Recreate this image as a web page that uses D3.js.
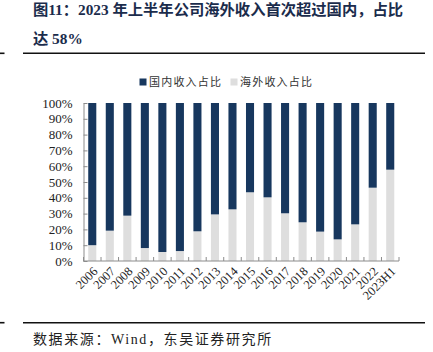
<!DOCTYPE html>
<html>
<head>
<meta charset="utf-8">
<script src="https://cdn.jsdelivr.net/npm/d3@7/dist/d3.min.js"></script>
<style>
html,body{margin:0;padding:0;background:#fff;}
svg{display:block;}
</style>
</head>
<body>
<svg id="chart" width="433" height="352"></svg>
<script>
const categories = ["2006","2007","2008","2009","2010","2011","2012","2013","2014","2015","2016","2017","2018","2019","2020","2021","2022","2023H1"];
const overseasShare = [10.0,19.2,28.7,8.2,5.7,6.3,18.8,29.5,32.7,43.5,40.3,30.2,24.5,18.6,13.7,23.2,46.4,57.8];
const domesticShare = overseasShare.map(v => 100 - v);
const seriesNames = ["国内收入占比","海外收入占比"];
const yTicks = [0,10,20,30,40,50,60,70,80,90,100];
const titleLines = ["图11：2023 年上半年公司海外收入首次超过国内，占比","达 58%"];
const sourceText = "数据来源：Wind，东吴证券研究所";

const colors = {domestic:"#17375e", overseas:"#dedede", axis:"#8c8c8c", title:"#1b2c4c", text:"#222"};
const latinCJK = "'Liberation Serif','Noto Sans CJK SC',serif";
const cjk = "'Noto Sans CJK SC','Liberation Serif',sans-serif";

const svg = d3.select("#chart");

// Title
const title = svg.append("g").attr("font-family", latinCJK).attr("font-weight","bold")
  .attr("font-size", 15.3).attr("fill", colors.title);
title.append("text").attr("x", 33).attr("y", 15).text(titleLines[0]);
title.append("text").attr("x", 33).attr("y", 44).text(titleLines[1]);

// Separator lines
function hline(y){
  svg.append("line").attr("x1",0).attr("x2",4.5).attr("y1",y).attr("y2",y)
    .attr("stroke","#111").attr("stroke-width",1.6);
  svg.append("line").attr("x1",23).attr("x2",425).attr("y1",y).attr("y2",y)
    .attr("stroke","#111").attr("stroke-width",1.6);
}
hline(53.3);
hline(322.7);

// Source
svg.append("text").attr("x",33).attr("y",344).attr("font-family",latinCJK)
  .attr("font-size",14).attr("letter-spacing","1.6px").attr("fill","#222").text(sourceText);

// Scales
const x0 = 83.5, x1 = 399, yTop = 103, yBot = 261;
const x = d3.scaleBand().domain(categories).range([x0,x1]).paddingInner(0.54).paddingOuter(0.27);
const y = d3.scaleLinear().domain([0,100]).range([yBot,yTop]);

// Bars
const data = categories.map((c,i)=>({c, o:overseasShare[i], d:domesticShare[i]}));
const bars = svg.append("g");
bars.selectAll("rect.ov").data(data).enter().append("rect").attr("class","ov")
  .attr("x", d=>x(d.c)).attr("width", x.bandwidth())
  .attr("y", d=>y(d.o)).attr("height", d=>y(0)-y(d.o)).attr("fill", colors.overseas);
bars.selectAll("rect.dm").data(data).enter().append("rect").attr("class","dm")
  .attr("x", d=>x(d.c)).attr("width", x.bandwidth())
  .attr("y", d=>y(d.o + d.d)).attr("height", d=>y(d.o)-y(d.o+d.d)).attr("fill", colors.domestic);

// Y axis
const yAxis = d3.axisLeft(y).tickValues(yTicks).tickFormat(d=>d+"%").tickSizeInner(-4).tickSizeOuter(0).tickPadding(11);
const yg = svg.append("g").attr("transform",`translate(${x0},0)`).call(yAxis);
yg.select(".domain").attr("stroke",colors.axis);
yg.selectAll(".tick line").attr("stroke",colors.axis);
yg.selectAll(".tick text").attr("font-family",latinCJK).attr("font-size",13).attr("fill",colors.text);

// X axis baseline
svg.append("line").attr("x1",x0).attr("x2",x1).attr("y1",yBot).attr("y2",yBot).attr("stroke",colors.axis);
// boundary ticks (between categories), pointing up
const step = x.step();
const boundaries = d3.range(categories.length+1).map(i=>x0 + i*step);
svg.append("g").selectAll("line").data(boundaries).enter().append("line")
  .attr("x1",d=>d).attr("x2",d=>d).attr("y1",yBot).attr("y2",yBot-4).attr("stroke",colors.axis);

// X labels
svg.append("g").selectAll("text").data(categories).enter().append("text")
  .attr("transform", d=>`translate(${x(d)+x.bandwidth()/2+3},${yBot+8}) rotate(-45)`)
  .attr("text-anchor","end").attr("dy","0.35em")
  .attr("font-family",latinCJK).attr("font-size",12.5).attr("fill",colors.text).text(d=>d);

// Legend
const legend = svg.append("g").attr("font-family",cjk).attr("font-size",11).attr("fill","#333");
const legendItems = [{name:seriesNames[0], color:colors.domestic, x:139.5},{name:seriesNames[1], color:colors.overseas, x:230.5}];
legendItems.forEach(it=>{
  legend.append("rect").attr("x",it.x).attr("y",78.5).attr("width",7).attr("height",7).attr("fill",it.color);
  legend.append("text").attr("x",it.x+9.5).attr("y",86).attr("letter-spacing","1.2px").text(it.name);
});
</script>
</body>
</html>
